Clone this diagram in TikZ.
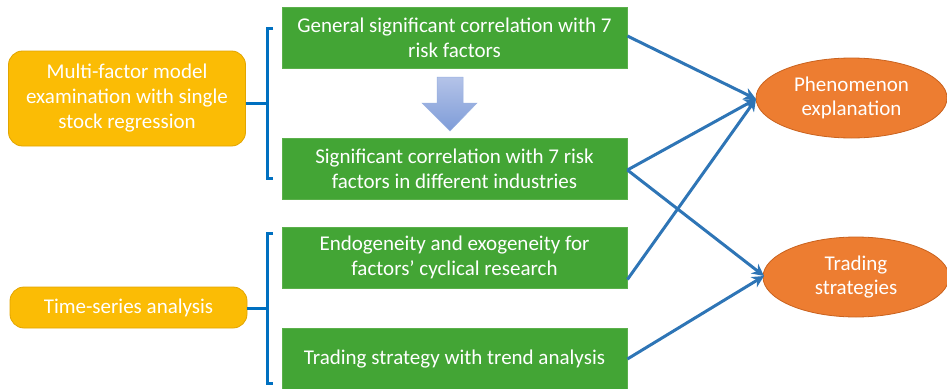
\documentclass[tikz,border=0pt]{standalone}
\usepackage{fontspec}
\setmainfont{Carlito}
\usetikzlibrary{shapes.geometric,arrows.meta}
\definecolor{gfill}{HTML}{43A535}
\definecolor{gdraw}{HTML}{5BB04B}
\definecolor{yfill}{HTML}{FBBC05}
\definecolor{ydraw}{HTML}{E2A500}
\definecolor{ofill}{HTML}{ED7D31}
\definecolor{odraw}{HTML}{C9621E}
\definecolor{arr}{HTML}{2E75B6}
\definecolor{brk}{HTML}{0070C0}
\definecolor{blk1}{HTML}{B4C3E8}
\definecolor{blk2}{HTML}{7E9CD8}
\tikzset{
  gbox/.style={draw=gdraw, fill=gfill, line width=0.8pt, text=white, align=center, minimum width=345pt, minimum height=61pt, font=\fontsize{21}{25}\selectfont, inner sep=0pt},
  ybox/.style={draw=ydraw, fill=yfill, line width=0.8pt, text=white, align=center, rounded corners=14pt, font=\fontsize{21}{25}\selectfont, inner sep=0pt},
  ell/.style={ellipse, draw=odraw, fill=ofill, line width=0.8pt, text=white, align=center, font=\fontsize{21}{24}\selectfont, inner sep=0pt},
  conn/.style={draw=arr, line width=3pt, -{Stealth[length=12pt,width=12pt]}},
  brkt/.style={draw=brk, line width=3pt},
}
\begin{document}
\begin{tikzpicture}[x=1pt,y=-1pt]
\useasboundingbox (0,0) rectangle (947,388);
% yellow boxes
\node[ybox, minimum width=237pt, minimum height=95pt] (y1) at (127,98.5) {Multi-factor model\\examination with single\\stock regression};
\node[ybox, minimum width=237pt, minimum height=41pt] (y2) at (128.5,307.5) {Time-series analysis};
% green boxes
\node[gbox] (g1) at (454.5,38) {General significant correlation with 7\\risk factors};
\node[gbox] (g2) at (454.5,169) {Significant correlation with 7 risk\\factors in different industries};
\node[gbox] (g3) at (454.5,257.5) {Endogeneity and exogeneity for\\factors’ cyclical research};
\node[gbox, minimum height=62pt] (g4) at (454.5,359) {Trading strategy with trend analysis};
% ellipses
\node[ell, minimum width=191pt, minimum height=80pt] (e1) at (851.5,98) {Phenomenon\\explanation};
\node[ell, minimum width=186pt, minimum height=80pt] (e2) at (856,277) {Trading\\strategies};
% brackets
\coordinate (b1t) at (273,28);
\coordinate (b1b) at (273,178);
\coordinate (b1m) at (267,103);
\draw[brkt] (b1t) -- (267,28) -- (267,178) -- (b1b);
\draw[brkt] (y1.east |- b1m) -- (b1m);
\coordinate (b2t) at (273,233);
\coordinate (b2b) at (273,383);
\coordinate (b2m) at (267,308);
\draw[brkt] (b2t) -- (267,233) -- (267,383) -- (b2b);
\draw[brkt] (y2.east |- b2m) -- (b2m);
% block arrow
\shade[top color=blk1, bottom color=blk2, draw=blk2!80!white, line width=0.5pt]
  (437,77) -- (463,77) -- (463,103) -- (477,103) -- (450,131) -- (422,103) -- (437,103) -- cycle;
% connectors
\coordinate (t1) at (756,99);
\coordinate (t2) at (764,276);
\draw[conn] ([yshift=2pt]g1.east) -- (t1);
\draw[conn] ([yshift=-1pt]g2.east) -- (t1);
\draw[conn] ([yshift=-1pt]g2.east) -- (t2);
\draw[conn] ([yshift=-22pt]g3.east) -- (t1);
\draw[conn] (g4.east) -- (t2);
\end{tikzpicture}
\end{document}
